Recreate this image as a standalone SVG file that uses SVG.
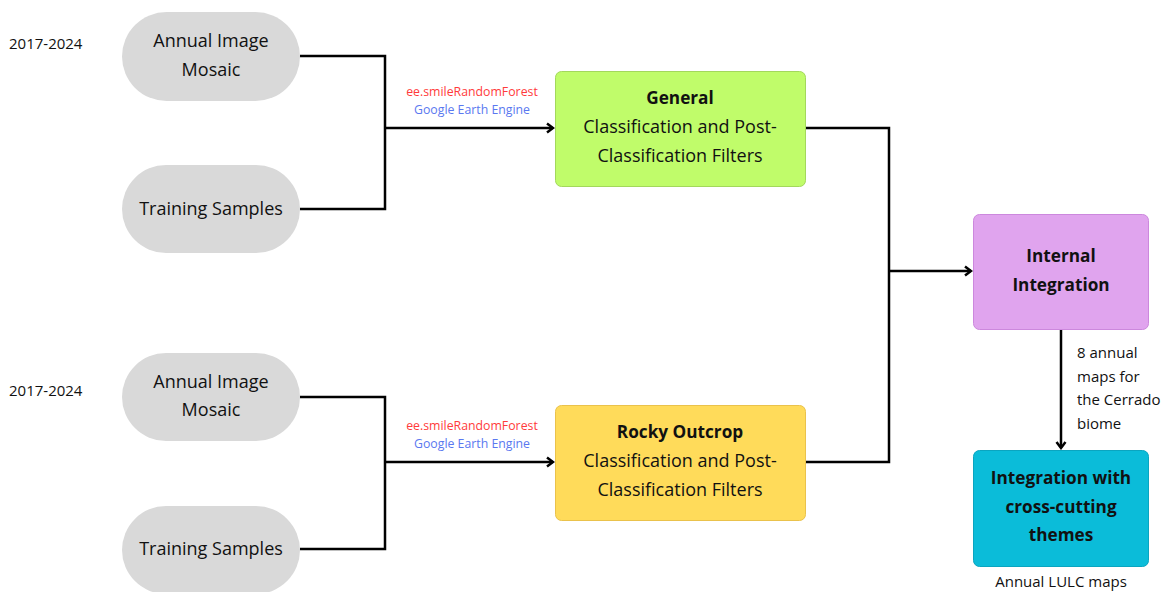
<svg xmlns="http://www.w3.org/2000/svg" width="1171" height="592" viewBox="0 0 1171 592">
<defs>
<style>
.t{font-family:"Open Sans","Liberation Sans",sans-serif;fill:#111;text-anchor:middle}
.m{font-size:18px}
.b{font-size:17.2px;font-weight:bold}
.s{font-size:15px}
.x{font-size:12.3px}
.pill{fill:#d9d9d9}
.c{fill:none;stroke:#000;stroke-width:2.5}
</style>
<marker id="ah" markerWidth="10" markerHeight="12" refX="8" refY="6" orient="auto" markerUnits="userSpaceOnUse">
<path d="M2,1.5 L8,6 L2,10.5" fill="none" stroke="#000" stroke-width="2.5"/>
</marker>
</defs>
<rect width="1171" height="592" fill="#fff"/>
<g id="connectors">
<polyline class="c" points="300,56 385,56 385,209 300,209"/>
<line class="c" x1="385" y1="128" x2="553" y2="128" marker-end="url(#ah)"/>
<polyline class="c" points="300,397 385,397 385,549 300,549"/>
<line class="c" x1="385" y1="462" x2="553" y2="462" marker-end="url(#ah)"/>
<polyline class="c" points="805,128 889,128 889,462 805,462"/>
<line class="c" x1="889" y1="271" x2="971" y2="271" marker-end="url(#ah)"/>
<line class="c" x1="1061" y1="329" x2="1061" y2="448" marker-end="url(#ah)"/>
<text class="t x" x="472" y="96" style="fill:#ff3b3b">ee.smileRandomForest</text>
<text class="t x" x="472" y="114" style="fill:#5a78f0">Google Earth Engine</text>
<text class="t x" x="472" y="430" style="fill:#ff3b3b">ee.smileRandomForest</text>
<text class="t x" x="472" y="448" style="fill:#5a78f0">Google Earth Engine</text>
<text class="t s" x="1077" y="358" style="text-anchor:start">8 annual</text>
<text class="t s" x="1077" y="382" style="text-anchor:start">maps for</text>
<text class="t s" x="1077" y="405" style="text-anchor:start">the Cerrado</text>
<text class="t s" x="1077" y="429" style="text-anchor:start">biome</text>
</g>
<g id="year1"><text class="t s" x="9" y="49" style="text-anchor:start">2017-2024</text></g>
<g id="year2"><text class="t s" x="9" y="396" style="text-anchor:start">2017-2024</text></g>
<g id="mosaic1">
<rect class="pill" x="122" y="12" width="178" height="89" rx="44.5"/>
<text class="t m" x="211" y="47">Annual Image</text>
<text class="t m" x="211" y="76">Mosaic</text>
</g>
<g id="samples1">
<rect class="pill" x="122" y="165" width="178" height="88" rx="44"/>
<text class="t m" x="211" y="215">Training Samples</text>
</g>
<g id="mosaic2">
<rect class="pill" x="122" y="353" width="178" height="88" rx="44"/>
<text class="t m" x="211" y="388">Annual Image</text>
<text class="t m" x="211" y="416">Mosaic</text>
</g>
<g id="samples2">
<rect class="pill" x="122" y="506" width="178" height="88" rx="44"/>
<text class="t m" x="211" y="555">Training Samples</text>
</g>
<g id="general">
<rect x="555.5" y="71.5" width="250" height="115" rx="6" fill="#c0fc6a" stroke="#a3d85c"/>
<text class="t b" x="680" y="104">General</text>
<text class="t m" x="680" y="133">Classification and Post-</text>
<text class="t m" x="680" y="162">Classification Filters</text>
</g>
<g id="rocky">
<rect x="555.5" y="405.5" width="250" height="115" rx="6" fill="#ffdb5a" stroke="#eac24c"/>
<text class="t b" x="680" y="438">Rocky Outcrop</text>
<text class="t m" x="680" y="467">Classification and Post-</text>
<text class="t m" x="680" y="496">Classification Filters</text>
</g>
<g id="internal">
<rect x="973.5" y="214.5" width="175" height="115" rx="6" fill="#e0a4ee" stroke="#cc88dd"/>
<text class="t b" x="1061" y="262">Internal</text>
<text class="t b" x="1061" y="291">Integration</text>
</g>
<g id="crosscut">
<rect x="973.5" y="450.5" width="175" height="116" rx="6" fill="#0bbcd9" stroke="#0aa5c0"/>
<text class="t b" x="1061" y="484">Integration with</text>
<text class="t b" x="1061" y="513">cross-cutting</text>
<text class="t b" x="1061" y="541">themes</text>
<text class="t s" x="1061" y="587">Annual LULC maps</text>
</g>
</svg>
